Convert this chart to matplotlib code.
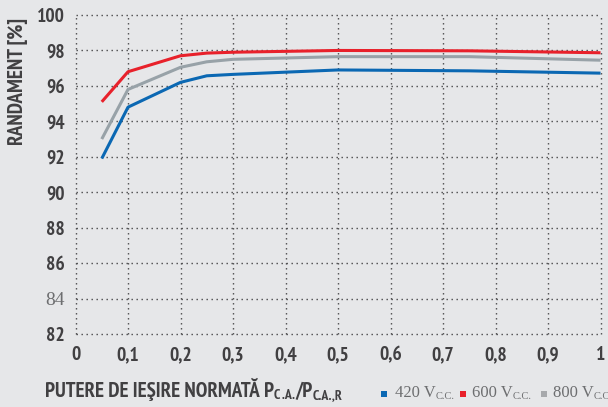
import matplotlib
matplotlib.use("Agg")
import matplotlib.pyplot as plt
from matplotlib import font_manager as fm
from matplotlib.font_manager import FontProperties

x_vals = [0.05, 0.1, 0.2, 0.25, 0.3, 0.5, 0.75, 1.0]
eff_420 = [91.9, 94.8, 96.2, 96.57, 96.65, 96.9, 96.85, 96.72]
eff_600 = [95.1, 96.8, 97.7, 97.85, 97.9, 98.0, 97.98, 97.87]
eff_800 = [93.0, 95.8, 97.05, 97.36, 97.5, 97.65, 97.65, 97.45]
series_labels = ["420 V", "600 V", "800 V"]
series_sub = "C.C."
x_ticks = [0, 0.1, 0.2, 0.3, 0.4, 0.5, 0.6, 0.7, 0.8, 0.9, 1.0]
x_tick_labels = ["0", "0,1", "0,2", "0,3", "0,4", "0,5", "0,6", "0,7", "0,8", "0,9", "1"]
y_ticks = [82, 84, 86, 88, 90, 92, 94, 96, 98, 100]

fonts = {(f.name, f.stretch, f.weight) for f in fm.fontManager.ttflist}
names = {f[0] for f in fonts}

def has(name, stretch=None, minw=600):
    for n, s, w in fonts:
        if n == name and (stretch is None or s == stretch) and (isinstance(w, int) and w >= minw or w in ("bold",)):
            return True
    return False

if has("Open Sans", "condensed"):
    bold_kw = dict(family="Open Sans", stretch="condensed", weight="bold")
elif "PT Sans Narrow" in names:
    bold_kw = dict(family="PT Sans Narrow", weight="bold")
elif "IBM Plex Sans Condensed" in names:
    bold_kw = dict(family="IBM Plex Sans Condensed", weight="bold")
else:
    bold_kw = dict(family="Roboto", weight="bold")

serif_family = "Liberation Serif"

bg = "#e6e7e9"
txt = "#414042"
colors = ["#0b68b3", "#e8212b", "#98a2a8"]

fig = plt.figure(figsize=(6.08, 4.07), dpi=100, facecolor=bg)
ax = fig.add_axes([0.1242, 0.1794, 0.8635, 0.7837], facecolor=bg)

for y, c in zip([eff_420, eff_600, eff_800], colors):
    ax.plot(x_vals, y, color=c, lw=2.2, solid_capstyle="butt", zorder=3)

ax.set_xlim(0, 1)
ax.set_ylim(82, 100)
ax.set_xticks(x_ticks)
ax.set_yticks(y_ticks)
ax.set_xticklabels(x_tick_labels)
for s in ax.spines.values():
    s.set_visible(False)
ax.tick_params(length=0, colors=txt)
ax.tick_params(axis="y", pad=8)
ax.tick_params(axis="x", pad=9)
ax.grid(True, color="#48484a", linestyle=(0, (1, 2.6)), linewidth=1.0)
for g in ax.get_xgridlines() + ax.get_ygridlines():
    g.set_clip_on(False)

tick_fp = FontProperties(size=14, **bold_kw)
for lab in ax.get_xticklabels() + ax.get_yticklabels():
    lab.set_fontproperties(tick_fp)
    lab.set_color(txt)
for lab in ax.get_yticklabels():
    if lab.get_text() == "84":
        lab.set_fontproperties(FontProperties(family=serif_family, size=14))
        lab.set_color("#6d6e70")

label_fp = FontProperties(size=15, **bold_kw)
sub_fp = FontProperties(size=10, **bold_kw)
fig.text(0.0296, 0.80, "RANDAMENT [%]", rotation=90, ha="center", va="center",
         fontproperties=label_fp, color=txt)

renderer = fig.canvas.get_renderer()
W, H = fig.bbox.width, fig.bbox.height

def place_pieces(x0, y0, pieces, color):
    """pieces: list of (text, fontprops, dy_px)."""
    x = x0
    for s, fp, dy in pieces:
        t = fig.text(x, y0 + dy / H, s, ha="left", va="baseline", fontproperties=fp, color=color)
        bb = t.get_window_extent(renderer)
        x = x + bb.width / W

place_pieces(0.074, 0.025,
             [("PUTERE DE IEŞIRE NORMATĂ P", label_fp, 0),
              ("C .A.", sub_fp, -2.5),
              ("/P", label_fp, 0),
              ("C.A.,R", sub_fp, -2.5)], txt)

sq_x = [0.6266, 0.7566, 0.8898]
tx_x = [0.6497, 0.7763, 0.9095]
sq_colors = [colors[0], colors[1], "#a7a9ac"]
leg_fp = FontProperties(family=serif_family, size=12)
leg_sub = FontProperties(family=serif_family, size=7.5)
for sx, tx, c, lab in zip(sq_x, tx_x, sq_colors, series_labels):
    fig.patches.append(plt.Rectangle((sx, 0.0246), 0.0105, 0.0157, transform=fig.transFigure,
                                     facecolor=c, edgecolor="none"))
    place_pieces(tx, 0.0246, [(lab, leg_fp, 0), (series_sub, leg_sub, -2.0)], "#6d6e70")

fig.savefig("out.png", dpi=100, facecolor=bg)
